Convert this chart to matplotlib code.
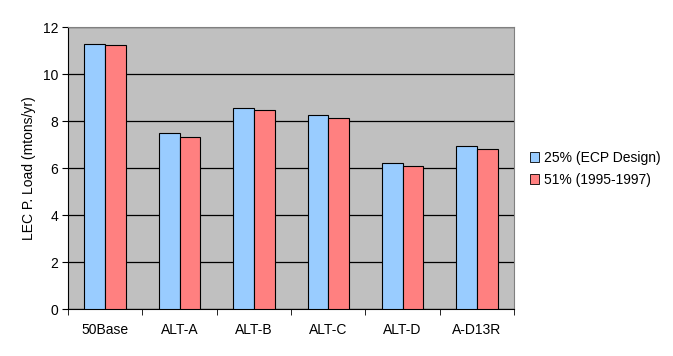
import numpy as np
import matplotlib.pyplot as plt
from matplotlib.patches import Patch

plt.rcParams['font.family'] = ['Liberation Sans', 'DejaVu Sans']

# ===== データ =====
scenarios = ["50Base", "ALT-A", "ALT-B", "ALT-C", "ALT-D", "A-D13R"]
ecp_design = [11.30, 7.48, 8.54, 8.24, 6.20, 6.92]
hist_9597 = [11.22, 7.30, 8.45, 8.11, 6.07, 6.79]
series_names = ["25% (ECP Design)", "51% (1995-1997)"]

blue = "#99CCFF"
red = "#FF8080"

# ===== グラフ =====
fig = plt.figure(figsize=(6.73, 3.56), dpi=100)
ax = fig.add_axes([0.101, 0.132, 0.663, 0.792])
ax.set_facecolor("#C0C0C0")

x = np.arange(len(scenarios))
w = 0.278
ax.bar(x - w / 2, ecp_design, w, color=blue, edgecolor="black", linewidth=0.8, zorder=3)
ax.bar(x + w / 2, hist_9597, w, color=red, edgecolor="black", linewidth=0.8, zorder=3)

ax.set_xlim(-0.5, len(scenarios) - 0.5)
ax.set_ylim(0, 12)
ax.set_yticks(range(0, 13, 2))
ax.yaxis.grid(True, color="black", linewidth=0.9, zorder=1)
ax.set_axisbelow(True)

ax.set_xticks(x)
ax.set_xticklabels(scenarios)
ax.set_xticks(np.arange(-0.5, len(scenarios)), minor=True)
ax.tick_params(axis="x", which="major", length=0, pad=10, labelsize=10)
ax.tick_params(axis="x", which="minor", length=4, direction="out")
ax.tick_params(axis="y", length=4, direction="out", labelsize=10, pad=3)

for s in ["top", "right"]:
    ax.spines[s].set_color("#808080")
for s in ["left", "bottom"]:
    ax.spines[s].set_color("black")

ax.set_ylabel("LEC P. Load (mtons/yr)", fontsize=10, labelpad=5)

handles = [Patch(facecolor=blue, edgecolor="black", linewidth=0.6),
           Patch(facecolor=red, edgecolor="black", linewidth=0.6)]
fig.legend(handles, series_names, loc="center left", bbox_to_anchor=(0.787, 0.526),
           frameon=False, fontsize=10, handlelength=0.7, handleheight=0.7,
           handletextpad=0.35, labelspacing=0.55, borderpad=0, borderaxespad=0)

fig.savefig("out.png", dpi=100)
